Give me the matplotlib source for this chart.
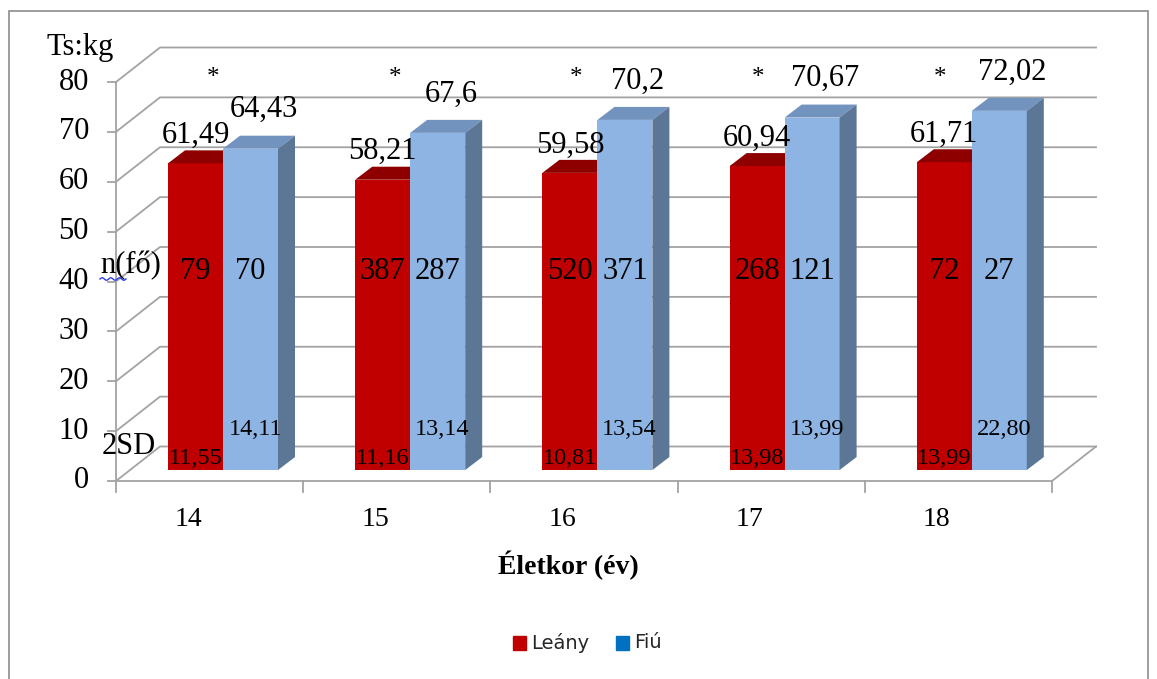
import numpy as np
import matplotlib
matplotlib.use('Agg')
import matplotlib.pyplot as plt
from matplotlib.patches import Polygon, Rectangle

# Age groups and measured values (mean body mass, kg)
ages = ['14', '15', '16', '17', '18']
girls_mean = [61.49, 58.21, 59.58, 60.94, 61.71]
boys_mean = [64.43, 67.6, 70.2, 70.67, 72.02]
girls_n = [79, 387, 520, 268, 72]
boys_n = [70, 287, 371, 121, 27]
girls_sd = ['11,55', '11,16', '10,81', '13,98', '13,99']
boys_sd = ['14,11', '13,14', '13,54', '13,99', '22,80']
y_ticks = [0, 10, 20, 30, 40, 50, 60, 70, 80]

RED = '#C00000'
RED_TOP = '#8E0000'
BLUE = '#8DB4E2'
BLUE_TOP = '#7393BF'
BLUE_SIDE = '#5C7696'
GRID = '#A3A3A3'
SERIF = 'Liberation Serif'

W, H = 1157, 679
fig = plt.figure(figsize=(W / 100, H / 100), dpi=100)
ax = fig.add_axes([0, 0, 1, 1])

# pixel <-> data helpers (x: one unit per category, y: kg)
SX, SY = 187.2, 4.9875
def px_x(p):
    return -0.5 + (p - 116) / SX
def px_y(p):
    return (481 - p) / SY

ax.set_xlim(px_x(0), px_x(W))
ax.set_ylim(px_y(H), px_y(0))
ax.axis('off')

fmt = lambda v: ('%g' % v).replace('.', ',')

# 3d offsets
DX, DY = 44 / SX, 34.5 / SY        # back wall
BX, BY = 0.0716, 2.2               # plane of the bars
SDX, SDY = 17 / SX, 13 / SY        # bar depth
BW = 55 / SX                       # bar width
n = len(ages)
x = np.arange(n)
left, right = -0.5, n - 0.5

# walls and gridlines
for v in y_ticks:
    ax.plot([left, left + DX, right + DX], [v, v + DY, v + DY], color=GRID, lw=1.3, zorder=1)
    ax.plot([left - 8 / SX, left], [v, v], color=GRID, lw=1.3, zorder=1)
    ax.text(px_x(89), v, str(v), ha='right', va='center', family=SERIF, fontsize=22)
ax.plot([left, left], [0, 80], color=GRID, lw=1.3, zorder=1)
ax.plot([left, right, right + DX], [0, 0, DY], color=GRID, lw=1.3, zorder=1)
for k in range(n + 1):
    ax.plot([left + k, left + k], [0, -11 / SY], color=GRID, lw=1.3, zorder=1)

# bars
xr = x + BX - BW / 2
xb = x + BX + BW / 2
ax.bar(xr, girls_mean, width=BW, bottom=BY, color=RED, zorder=3)
for i in range(n):
    t = BY + girls_mean[i]
    x0, x1 = xr[i] - BW / 2, xr[i] + BW / 2
    ax.add_patch(Polygon([(x0, t), (x1, t), (x1 + SDX, t + SDY), (x0 + SDX, t + SDY)],
                         closed=True, color=RED_TOP, lw=0, zorder=3))
ax.bar(xb, boys_mean, width=BW, bottom=BY, color=BLUE, zorder=4)
for i in range(n):
    t = BY + boys_mean[i]
    x0, x1 = xb[i] - BW / 2, xb[i] + BW / 2
    ax.add_patch(Polygon([(x0, t), (x1, t), (x1 + SDX, t + SDY), (x0 + SDX, t + SDY)],
                         closed=True, color=BLUE_TOP, lw=0, zorder=4))
    ax.add_patch(Polygon([(x1, BY), (x1 + SDX, BY + SDY), (x1 + SDX, t + SDY), (x1, t)],
                         closed=True, color=BLUE_SIDE, lw=0, zorder=4))

# labels on and above the bars
for i in range(n):
    ax.text(xr[i], BY + girls_mean[i] + 5.6, fmt(girls_mean[i]), ha='center', va='center',
            family=SERIF, fontsize=22, zorder=6)
    ax.text(xb[i] + 0.07, BY + boys_mean[i] + 7.8, fmt(boys_mean[i]), ha='center', va='center',
            family=SERIF, fontsize=22, zorder=6)
    ax.text(x[i] + 0.02 - 0.03 * i, 80.8, '*', ha='center', va='center',
            family=SERIF, fontsize=18, zorder=6)
    ax.text(xr[i], 42, str(girls_n[i]), ha='center', va='center', family=SERIF, fontsize=22, zorder=6)
    ax.text(xb[i], 42, str(boys_n[i]), ha='center', va='center', family=SERIF, fontsize=22, zorder=6)
    ax.text(xr[i], 4.6, girls_sd[i], ha='center', va='center', family=SERIF, fontsize=17.5, zorder=6)
    ax.text(xb[i] + 0.025, 10.4, boys_sd[i], ha='center', va='center', family=SERIF, fontsize=17.5, zorder=6)
    ax.text(x[i] - 0.115, px_y(520), ages[i], ha='center', va='center', family=SERIF, fontsize=20)

ax.text(px_x(80), px_y(47), 'Ts:kg', ha='center', va='center', family=SERIF, fontsize=22)
ax.text(px_x(100), px_y(266), 'n(fő)', ha='left', va='center', family=SERIF, fontsize=22, zorder=6)
sq = np.linspace(px_x(100), px_x(126), 40)
ax.plot(sq, px_y(279) + 0.25 * np.sin(np.linspace(0, 6 * np.pi, 40)), color='#2E3FE0', lw=1, zorder=6)
ax.text(px_x(102), px_y(447), '2SD', ha='left', va='center', family=SERIF, fontsize=22, zorder=6)
ax.text(px_x(568), px_y(565), 'Életkor (év)', ha='center', va='center', family=SERIF,
        fontsize=20, fontweight='bold')

# legend
ax.add_patch(Rectangle((px_x(513), px_y(650)), 13 / SX, 14 / SY, color=RED, clip_on=False))
ax.text(px_x(531), px_y(643), 'Leány', ha='left', va='center', fontsize=14, color='#262626')
ax.add_patch(Rectangle((px_x(616), px_y(650)), 13 / SX, 14 / SY, color='#0070C0', clip_on=False))
ax.text(px_x(634), px_y(643), 'Fiú', ha='left', va='center', fontsize=14, color='#262626')

# chart frame
ax.add_patch(Rectangle((px_x(9), px_y(700)), (1148 - 9) / SX, (700 - 11) / SY,
                       fill=False, ec='#8C8C8C', lw=1.2, clip_on=False))

fig.savefig('out.png', dpi=100)
